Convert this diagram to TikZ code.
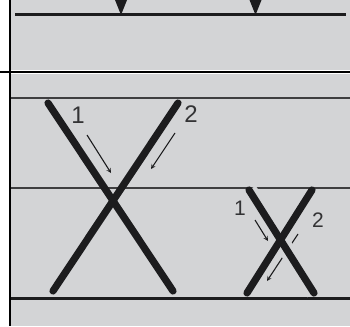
\documentclass[tikz,border=0pt]{standalone}
\usepackage{fontspec}
\setmainfont{Liberation Sans}
\usetikzlibrary{positioning}

\definecolor{panelgray}{RGB}{211,212,214}
\definecolor{inkdark}{RGB}{28,28,30}

\tikzset{
  bar/.style={draw=inkdark,line width=7.2pt,line cap=round},
  rail/.style={draw=inkdark,line width=3pt},
  guide/.style={draw=inkdark!85,line width=1.5pt},
  flow/.style={draw=inkdark,line width=1.1pt,-stealth},
  lbl/.style={font=\fontsize{24}{24}\selectfont,text=inkdark!90,inner sep=0pt},
  smalllbl/.style={lbl,font=\fontsize{21}{21}\selectfont}
}

\begin{document}
\begin{tikzpicture}[x=1pt,y=-1pt]
\useasboundingbox (0,0) rectangle (350,326);
% panels
\fill[panelgray] (11,0) rectangle (350,70.5);
\fill[panelgray] (11,74) rectangle (350,326);
\draw[black,line width=2.2pt] (0,72.3) -- (350,72.3);
\draw[black,line width=2.2pt] (10,0) -- (10,326);

% top panel
\draw[rail] (15,15) -- (346,15);
\fill[inkdark] (115,0) -- (127,0) -- (121,15) -- cycle;
\fill[inkdark] (249.5,0) -- (261.5,0) -- (255.5,15) -- cycle;

% bottom panel: guide lines
\draw[guide] (11,98) -- (350,98);
\draw[guide] (11,188) -- (350,188);
\draw[rail] (11,298) -- (350,298);

% large crossing
\coordinate (a1) at (48,103);
\coordinate (a2) at (173,291);
\coordinate (b1) at (178,103);
\coordinate (b2) at (53,291);
\draw[bar] (a1) -- (a2);
\draw[bar] (b1) -- (b2);
\node[lbl] (n1) at (78,115) {1};
\node[lbl] (n2) at (191,114) {2};
\coordinate (f1s) at (87,135);
\coordinate (f1e) at (111,173);
\coordinate (f2s) at (175,133);
\coordinate (f2e) at (151,169);
\draw[flow] (f1s) -- (f1e);
\draw[flow] (f2s) -- (f2e);

% small crossing
\coordinate (c2e) at (267,281);
\coordinate (c2s) at (298,234);
\draw[flow] (c2s) -- (c2e);
\coordinate (c1) at (249,190);
\coordinate (c2) at (314,293);
\coordinate (d1) at (312,190);
\coordinate (d2) at (247,293);
\draw[panelgray,line width=16pt] (c1) -- (c2);
\draw[bar] (c1) -- (c2);
\draw[bar] (d1) -- (d2);
\node[smalllbl] (m1) at (240,208) {1};
\node[smalllbl] (m2) at (318,220) {2};
\coordinate (g1s) at (255,220);
\coordinate (g1e) at (268,241);
\draw[flow] (g1s) -- (g1e);
\end{tikzpicture}
\end{document}
